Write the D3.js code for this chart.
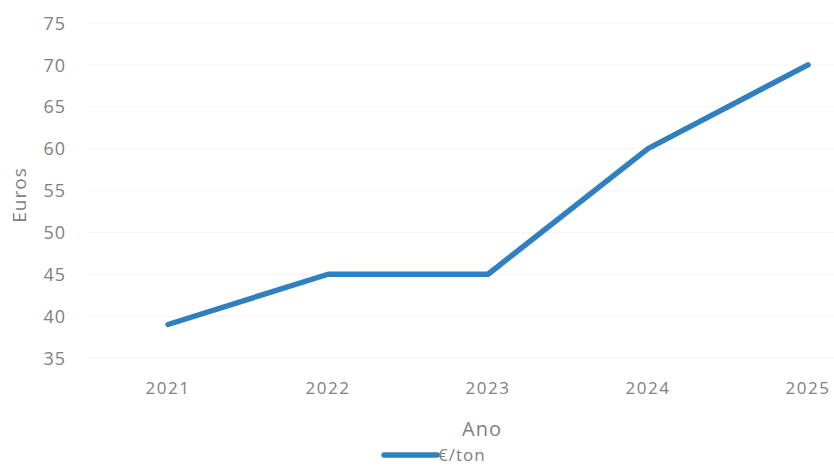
<!DOCTYPE html>
<html>
<head>
<meta charset="utf-8">
<script src="https://cdn.jsdelivr.net/npm/d3@7"></script>
<style>
  html, body { margin: 0; padding: 0; background: #fff; overflow: hidden; }
  svg { display: block; }
  text { font-family: "Open Sans", "Liberation Sans", sans-serif; fill: #808080; }
</style>
</head>
<body>
<svg id="chart" width="834" height="467"></svg>
<script>
// Price per ton, by year
const years = ["2021", "2022", "2023", "2024", "2025"];
const euroPerTon = [39, 45, 45, 60, 70];
const yTicks = [35, 40, 45, 50, 55, 60, 65, 70, 75];
const seriesName = "€/ton";
const xTitle = "Ano";
const yTitle = "Euros";

const svg = d3.select("#chart");
const W = 834, H = 467;

const x = d3.scaleBand().domain(years).range([88, 888]).padding(0);
const y = d3.scaleLinear().domain([35, 75]).range([358, 23]);
const cx = d => x(d) + x.bandwidth() / 2;

// faint horizontal gridlines
svg.append("g")
  .selectAll("line")
  .data(yTicks)
  .join("line")
  .attr("x1", 88).attr("x2", W)
  .attr("y1", d => y(d)).attr("y2", d => y(d))
  .attr("stroke", "#f4f4f4")
  .attr("stroke-width", 1);

// y axis (labels only)
const yAxis = svg.append("g")
  .attr("transform", "translate(66,0)")
  .call(d3.axisLeft(y).tickValues(yTicks).tickSize(0).tickPadding(0));
yAxis.select(".domain").remove();
yAxis.selectAll("text")
  .attr("font-size", 18)
  .attr("dy", "0.34em")
  .style("letter-spacing", "1px")
  .attr("fill", "#808080");

// x axis (labels only)
const xAxis = svg.append("g")
  .attr("transform", "translate(0,381)")
  .call(d3.axisBottom(x).tickSize(0).tickPadding(0));
xAxis.select(".domain").remove();
xAxis.selectAll("text")
  .attr("font-size", 17)
  .attr("dy", "0.75em")
  .style("letter-spacing", "1.5px")
  .attr("fill", "#808080");

// axis titles
svg.append("text")
  .attr("x", 482).attr("y", 436)
  .attr("text-anchor", "middle")
  .attr("font-size", 20)
  .style("letter-spacing", "1px")
  .text(xTitle);

svg.append("text")
  .attr("transform", "translate(26,195) rotate(-90)")
  .attr("text-anchor", "middle")
  .attr("font-size", 19)
  .style("letter-spacing", "1px")
  .text(yTitle);

// series line
const line = d3.line()
  .x((d, i) => cx(years[i]))
  .y(d => y(d));

svg.append("path")
  .datum(euroPerTon)
  .attr("d", line)
  .attr("fill", "none")
  .attr("stroke", "#2f7fc1")
  .attr("stroke-width", 5.5)
  .attr("stroke-linecap", "round")
  .attr("stroke-linejoin", "round");

// legend
const legend = svg.append("g").attr("transform", "translate(384,455)");
legend.append("line")
  .attr("x1", 0).attr("x2", 53)
  .attr("y1", 0).attr("y2", 0)
  .attr("stroke", "#2f7fc1")
  .attr("stroke-width", 5.5)
  .attr("stroke-linecap", "round");
legend.append("text")
  .attr("x", 54).attr("y", 6)
  .attr("font-size", 17)
  .style("letter-spacing", "1px")
  .attr("fill", "#6e6e6e")
  .text(seriesName);
</script>
</body>
</html>
